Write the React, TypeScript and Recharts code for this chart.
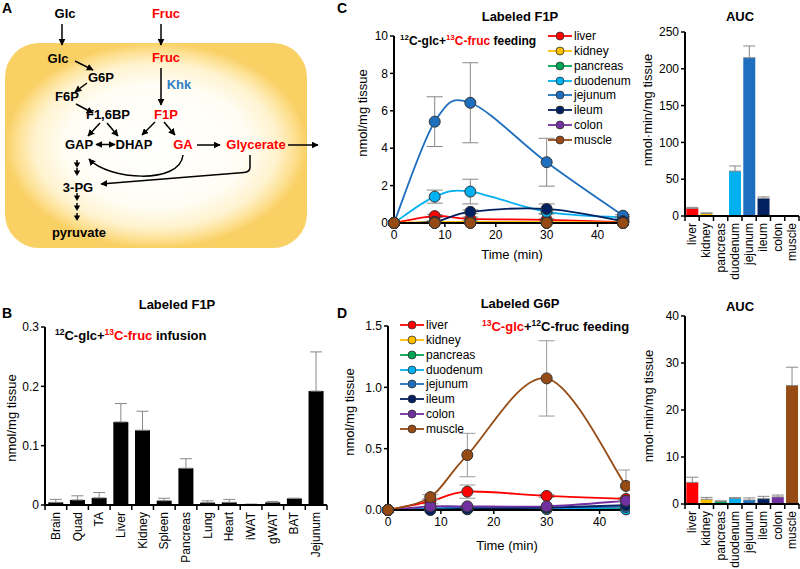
import React from 'react';
import { BarChart, Bar, XAxis, YAxis, ErrorBar, LineChart, Line, Legend, Cell } from 'recharts';

const FONT = '"Liberation Sans", Arial, Helvetica, sans-serif';

// ---------- Panel B data ----------
const bCategories = ['Brain', 'Quad', 'TA', 'Liver', 'Kidney', 'Spleen', 'Pancreas', 'Lung', 'Heart', 'iWAT', 'gWAT', 'BAT', 'Jejunum'];
const bValues = [0.0045, 0.0085, 0.012, 0.14, 0.126, 0.0073, 0.062, 0.004, 0.0045, 0.001, 0.0045, 0.011, 0.192];
const bErrors = [0.005, 0.007, 0.009, 0.031, 0.032, 0.004, 0.016, 0.003, 0.005, 0.0005, 0.0015, 0.0005, 0.066];
const bTicks = [0, 0.1, 0.2, 0.3];

// ---------- Shared ----------
const tissues = ['liver', 'kidney', 'pancreas', 'duodenum', 'jejunum', 'ileum', 'colon', 'muscle'];
const tissueColors = ['#ff0000', '#ffc000', '#00a651', '#00b0f0', '#1f6fbf', '#002060', '#7030a0', '#954b13'];
const timePoints = [0, 8, 15, 30, 45];
const timeTicks = [0, 10, 20, 30, 40];

// ---------- Panel C (Labeled F1P, feeding) ----------
const cLiver = [0, 0.37, 0.22, 0.17, 0.05];
const cKidney = [0, 0.06, 0.06, 0.05, 0.02];
const cPancreas = [0, 0.01, 0.01, 0.01, 0];
const cDuodenum = [0, 1.41, 1.68, 0.6, 0.3];
const cJejunum = [0, 5.42, 6.43, 3.25, 0.39];
const cIleum = [0, 0.07, 0.6, 0.75, 0.1];
const cColon = [0, 0.01, 0.01, 0.01, 0];
const cMuscle = [0, 0.005, 0.005, 0.005, 0];
const cLiverErr = [0, 0.08, 0.1, 0.05, 0.02];
const cKidneyErr = [0, 0, 0, 0, 0];
const cPancreasErr = [0, 0, 0, 0, 0];
const cDuodenumErr = [0, 0.35, 0.66, 0.1, 0.05];
const cJejunumErr = [0, 1.33, 2.14, 1.28, 0.05];
const cIleumErr = [0, 0.05, 0.1, 0.27, 0.05];
const cColonErr = [0, 0, 0, 0, 0];
const cMuscleErr = [0, 0, 0, 0, 0];
const cTicks = [0, 2, 4, 6, 8, 10];

const cAuc = [10.4, 3.6, 0, 61, 215, 24, 0, 0];
const cAucErr = [1.4, 0.5, 0, 7, 16, 2, 0, 0];
const cAucTicks = [0, 50, 100, 150, 200, 250];

// ---------- Panel D (Labeled G6P, feeding) ----------
const dLiver = [0, 0.07, 0.15, 0.115, 0.09];
const dKidney = [0, 0.01, 0.012, 0.015, 0.02];
const dPancreas = [0, 0.005, 0.006, 0.008, 0.01];
const dDuodenum = [0, 0.01, 0.01, 0.01, 0.005];
const dJejunum = [0, 0.015, 0.02, 0.02, 0.025];
const dIleum = [0, 0.0, 0.01, 0.02, 0.04];
const dColon = [0, 0.03, 0.03, 0.03, 0.075];
const dMuscle = [0, 0.105, 0.448, 1.073, 0.196];
const dLiverErr = [0, 0.02, 0.054, 0.012, 0.01];
const dKidneyErr = [0, 0, 0, 0, 0];
const dPancreasErr = [0, 0, 0, 0, 0];
const dDuodenumErr = [0, 0, 0, 0, 0];
const dJejunumErr = [0, 0, 0, 0, 0];
const dIleumErr = [0, 0, 0, 0, 0];
const dColonErr = [0, 0, 0, 0, 0];
const dMuscleErr = [0, 0.02, 0.177, 0.307, 0.13];
const dTicks = [0, 0.5, 1.0, 1.5];

const dAuc = [4.6, 1.0, 0.57, 1.2, 0.85, 1.13, 1.5, 25.2];
const dAucErr = [1.1, 0.4, 0.1, 0.15, 0.45, 0.5, 0.4, 3.9];
const dAucTicks = [0, 10, 20, 30, 40];

// ---------- build tables ----------
const bData = bCategories.map((name, i) => ({ name, value: bValues[i], err: [0, bErrors[i]] }));

const cSeries = [cLiver, cKidney, cPancreas, cDuodenum, cJejunum, cIleum, cColon, cMuscle];
const cSeriesErr = [cLiverErr, cKidneyErr, cPancreasErr, cDuodenumErr, cJejunumErr, cIleumErr, cColonErr, cMuscleErr];
const dSeries = [dLiver, dKidney, dPancreas, dDuodenum, dJejunum, dIleum, dColon, dMuscle];
const dSeriesErr = [dLiverErr, dKidneyErr, dPancreasErr, dDuodenumErr, dJejunumErr, dIleumErr, dColonErr, dMuscleErr];

const buildLineData = (series: number[][], errs: number[][]) =>
  timePoints.map((t, i) => {
    const row: any = { t };
    tissues.forEach((name, k) => {
      row[name] = series[k][i];
      row[name + 'Err'] = errs[k][i];
    });
    return row;
  });

const cData = buildLineData(cSeries, cSeriesErr);
const dData = buildLineData(dSeries, dSeriesErr);
const cAucData = tissues.map((name, i) => ({ name, value: cAuc[i], err: [0, cAucErr[i]] }));
const dAucData = tissues.map((name, i) => ({ name, value: dAuc[i], err: [0, dAucErr[i]] }));

// Excel-like smoothed curve (Catmull-Rom style bezier)
const excelSmooth: any = (context: any) => {
  let pts: number[][] = [];
  return {
    areaStart() {},
    areaEnd() {},
    lineStart() { pts = []; },
    lineEnd() {
      if (!pts.length) return;
      context.moveTo(pts[0][0], pts[0][1]);
      for (let i = 0; i < pts.length - 1; i++) {
        const p0 = pts[i - 1] || pts[i];
        const p1 = pts[i];
        const p2 = pts[i + 1];
        const p3 = pts[i + 2] || pts[i + 1];
        const k = 1 / 6;
        context.bezierCurveTo(
          p1[0] + (p2[0] - p0[0]) * k, p1[1] + (p2[1] - p0[1]) * k,
          p2[0] - (p3[0] - p1[0]) * k, p2[1] - (p3[1] - p1[1]) * k,
          p2[0], p2[1]
        );
      }
    },
    point(x: number, y: number) { pts.push([+x, +y]); },
  };
};

const axisLine = { stroke: '#000', strokeWidth: 2 };
const tickLine = { stroke: '#000', strokeWidth: 1.5 };
const tickStyle = { fill: '#000', fontSize: 12, fontFamily: FONT };

const makeBandTick = (bw: number, axisY: number, n: number) => (props: any) => {
  const { x, payload, index } = props;
  const ly = axisY + 7;
  return (
    <g>
      <line x1={x - bw / 2} x2={x - bw / 2} y1={axisY} y2={axisY + 5} stroke="#000" strokeWidth={1.5} />
      {index === n - 1 ? (
        <line x1={x + bw / 2} x2={x + bw / 2} y1={axisY} y2={axisY + 5} stroke="#000" strokeWidth={1.5} />
      ) : null}
      <text
        x={x}
        y={ly}
        transform={`rotate(-90 ${x} ${ly})`}
        textAnchor="end"
        dominantBaseline="central"
        fontSize={12}
        fontFamily={FONT}
        fill="#000"
      >
        {payload.value}
      </text>
    </g>
  );
};

const makeLegend = () => () => (
  <div style={{ fontFamily: FONT, fontSize: 12, color: '#000' }}>
    {tissues.map((n, i) => (
      <div key={n} style={{ display: 'flex', alignItems: 'center', height: 14.75 }}>
        <svg width={24} height={12} style={{ display: 'block' }}>
          <line x1={0} x2={24} y1={6} y2={6} stroke={tissueColors[i]} strokeWidth={1.8} />
          <circle cx={12} cy={6} r={4} fill={tissueColors[i]} stroke="#333" strokeWidth={0.8} />
        </svg>
        <span style={{ marginLeft: 2, lineHeight: '12px' }}>{n}</span>
      </div>
    ))}
  </div>
);

const LineSeries = (errColor: string) =>
  tissues.map((name, i) => (
    <Line
      key={name}
      dataKey={name}
      type={excelSmooth}
      stroke={tissueColors[i]}
      strokeWidth={1.8}
      dot={{ r: 5.5, fill: tissueColors[i], stroke: '#333', strokeWidth: 1 }}
      activeDot={false}
      isAnimationActive={false}
      legendType="none"
    >
      <ErrorBar dataKey={name + 'Err'} width={8} stroke={errColor} strokeWidth={1} direction="y" />
    </Line>
  ));

const Arrowheads = ({ x, tips }: { x: number; tips: number[] }) => (
  <g>
    {tips.map((t) => (
      <g key={t}>
        <line x1={x} x2={x} y1={t - 8} y2={t - 4} stroke="#000" strokeWidth={1.5} />
        <path d={`M${x - 3.2},${t - 5.5} L${x + 3.2},${t - 5.5} L${x},${t} Z`} fill="#000" />
      </g>
    ))}
  </g>
);

const PanelA = () => {
  const t = { fontFamily: FONT, fontWeight: 'bold' as const, fontSize: 13, textAnchor: 'middle' as const };
  const red = '#ff0000';
  const L = (x1: number, y1: number, x2: number, y2: number, both = false) => (
    <line x1={x1} y1={y1} x2={x2} y2={y2} stroke="#000" strokeWidth={1.5} markerEnd="url(#ah)" markerStart={both ? 'url(#ah)' : undefined} />
  );
  return (
    <svg width={330} height={285} style={{ position: 'absolute', left: 0, top: 0 }}>
      <defs>
        <radialGradient id="cellGrad" cx="0.5" cy="0.5" r="0.5">
          <stop offset="0" stopColor="#ffffff" />
          <stop offset="0.6" stopColor="#fffdf4" />
          <stop offset="0.8" stopColor="#fff3cf" />
          <stop offset="0.92" stopColor="#fde092" />
          <stop offset="1" stopColor="#f9d064" />
        </radialGradient>
        <marker id="ah" viewBox="0 0 10 10" refX="9" refY="5" markerWidth="7" markerHeight="7" markerUnits="userSpaceOnUse" orient="auto-start-reverse">
          <path d="M0,0 L10,5 L0,10 Z" fill="#000" />
        </marker>
      </defs>
      <rect x={5} y={43} width={302} height={205} rx={34} ry={34} fill="url(#cellGrad)" />
      <text x={2} y={13} fontFamily={FONT} fontWeight="bold" fontSize={14}>A</text>
      <text x={65} y={18} {...t}>Glc</text>
      <text x={166} y={18} {...t} fill={red}>Fruc</text>
      {L(62, 24, 62, 45)}
      {L(161, 24, 161, 45)}
      <text x={58} y={63} {...t}>Glc</text>
      {L(75, 61, 93, 70)}
      <text x={101} y={82} {...t}>G6P</text>
      {L(87, 83, 75, 92)}
      <text x={67} y={101} {...t}>F6P</text>
      {L(76, 104, 93, 113)}
      <text x={108} y={119} {...t}>F1,6BP</text>
      <text x={166} y={62} {...t} fill={red}>Fruc</text>
      {L(161, 68, 161, 105)}
      <text x={179} y={89} {...t} fill="#2f7fc1">Khk</text>
      <text x={166} y={119} {...t} fill={red}>F1P</text>
      {L(100, 123, 88, 136)}
      {L(107, 123, 118, 136)}
      {L(155, 122, 142, 135)}
      {L(164, 122, 175, 135)}
      <text x={79} y={149} {...t}>GAP</text>
      <text x={134} y={149} {...t}>DHAP</text>
      {L(96, 144.5, 115, 144.5, true)}
      <text x={183} y={149} {...t} fill={red}>GA</text>
      {L(197, 145, 220, 145)}
      <text x={256} y={149} {...t} fill={red}>Glycerate</text>
      {L(288, 145, 318, 145)}
      <path d="M183,155 C180,185 108,180 89,159" fill="none" stroke="#000" strokeWidth={1.5} markerEnd="url(#ah)" />
      <path d="M250,155 L250,167 Q250,172 244,172.5 L101,184" fill="none" stroke="#000" strokeWidth={1.5} markerEnd="url(#ah)" />
      <Arrowheads x={77} tips={[168, 176]} />
      <text x={78} y={192} {...t}>3-PG</text>
      <Arrowheads x={77} tips={[201, 211, 221]} />
      <text x={79} y={237} {...t}>pyruvate</text>
    </svg>
  );
};

const Overlay = () => {
  const bold = { fontFamily: FONT, fontWeight: 'bold' as const, fontSize: 13 };
  const reg = { fontFamily: FONT, fontSize: 13 };
  const yLabel = (x: number, y: number, s: string) => (
    <text x={x} y={y} transform={`rotate(-90 ${x} ${y})`} textAnchor="middle" dominantBaseline="central" {...reg}>{s}</text>
  );
  return (
    <svg width={800} height={569} style={{ position: 'absolute', left: 0, top: 0, pointerEvents: 'none' }}>
      <text x={2} y={318} fontFamily={FONT} fontWeight="bold" fontSize={14}>B</text>
      <text x={337} y={13} fontFamily={FONT} fontWeight="bold" fontSize={14}>C</text>
      <text x={337} y={318} fontFamily={FONT} fontWeight="bold" fontSize={14}>D</text>

      <text x={177} y={309} textAnchor="middle" {...bold}>Labeled F1P</text>
      <text x={55} y={340} {...bold}>
        <tspan fontSize={8.5} dy={-5}>12</tspan>
        <tspan dy={5}>C-glc+</tspan>
        <tspan fill="#ff0000" fontSize={8.5} dy={-5}>13</tspan>
        <tspan fill="#ff0000" dy={5}>C-fruc</tspan>
        <tspan> infusion</tspan>
      </text>
      {yLabel(11, 418, 'nmol/mg tissue')}

      <text x={520} y={21} textAnchor="middle" {...bold}>Labeled F1P</text>
      <text x={400} y={45} {...bold} fontSize={12}>
        <tspan fontSize={8} dy={-5}>12</tspan>
        <tspan dy={5}>C-glc+</tspan>
        <tspan fill="#ff0000" fontSize={8} dy={-5}>13</tspan>
        <tspan fill="#ff0000" dy={5}>C-fruc</tspan>
        <tspan> feeding</tspan>
      </text>
      {yLabel(362, 113, 'nmol/mg tissue')}
      <text x={512} y={259} textAnchor="middle" {...reg}>Time (min)</text>

      <text x={740} y={21} textAnchor="middle" {...bold}>AUC</text>
      {yLabel(647, 110, 'nmol·min/mg tissue')}

      <text x={520} y={308} textAnchor="middle" {...bold}>Labeled G6P</text>
      <text x={482} y={331} {...bold}>
        <tspan fill="#ff0000" fontSize={8.5} dy={-5}>13</tspan>
        <tspan fill="#ff0000" dy={5}>C-glc</tspan>
        <tspan>+</tspan>
        <tspan fontSize={8.5} dy={-5}>12</tspan>
        <tspan dy={5}>C-fruc feeding</tspan>
      </text>
      {yLabel(349, 412, 'nmol/mg tissue')}
      <text x={507} y={550} textAnchor="middle" {...reg}>Time (min)</text>

      <text x={740} y={311} textAnchor="middle" {...bold}>AUC</text>
      {yLabel(648, 406, 'nmol·min/mg tissue')}
    </svg>
  );
};

export default function App() {
  const bTick = makeBandTick(282 / 13, 220, 13);
  const cAucTick = makeBandTick(114 / 8, 216, 8);
  const dAucTick = makeBandTick(114 / 8, 219, 8);
  return (
    <div style={{ position: 'absolute', left: 0, top: 0, width: 800, height: 569, background: '#fff', overflow: 'hidden', fontFamily: FONT }}>
      <PanelA />

      {/* Panel B */}
      <div style={{ position: 'absolute', left: 0, top: 285 }}>
        <BarChart width={340} height={284} data={bData} margin={{ top: 42, right: 13, bottom: 4, left: 0 }} barCategoryGap="15%">
          <XAxis dataKey="name" interval={0} height={60} axisLine={axisLine} tickLine={false} tick={bTick} />
          <YAxis width={45} domain={[0, 0.3]} ticks={bTicks} axisLine={axisLine} tickLine={tickLine} tickSize={4} tickMargin={2} tick={tickStyle} tickFormatter={(v: number) => (v === 0 ? '0' : v.toFixed(1))} />
          <Bar dataKey="value" fill="#000" isAnimationActive={false}>
            <ErrorBar dataKey="err" width={6} stroke="#888" strokeWidth={1} direction="y" />
          </Bar>
        </BarChart>
      </div>

      {/* Panel C line */}
      <div style={{ position: 'absolute', left: 290, top: 0 }}>
        <LineChart width={340} height={285} data={cData} margin={{ top: 36, right: 7, bottom: 32, left: 0 }}>
          <XAxis dataKey="t" type="number" domain={[0, 45]} ticks={timeTicks} height={30} axisLine={axisLine} tickLine={tickLine} tickSize={4} tickMargin={3} tick={tickStyle} />
          <YAxis width={104} domain={[0, 10]} ticks={cTicks} axisLine={axisLine} tickLine={tickLine} tickSize={4} tickMargin={2} tick={tickStyle} />
          {LineSeries('#888')}
          <Legend layout="vertical" align="center" verticalAlign="middle" content={makeLegend()} wrapperStyle={{ left: 258, top: 29, width: 90 }} />
        </LineChart>
      </div>

      {/* Panel C AUC */}
      <div style={{ position: 'absolute', left: 590, top: 0 }}>
        <BarChart width={210} height={285} data={cAucData} margin={{ top: 32, right: 1, bottom: 9, left: 0 }} barCategoryGap="9%">
          <XAxis dataKey="name" interval={0} height={60} axisLine={axisLine} tickLine={false} tick={cAucTick} />
          <YAxis width={95} domain={[0, 250]} ticks={cAucTicks} axisLine={axisLine} tickLine={tickLine} tickSize={4} tickMargin={2} tick={tickStyle} />
          <Bar dataKey="value" isAnimationActive={false}>
            {cAucData.map((d, i) => <Cell key={d.name} fill={tissueColors[i]} />)}
            <ErrorBar dataKey="err" width={6} stroke="#888" strokeWidth={1} direction="y" />
          </Bar>
        </BarChart>
      </div>

      {/* Panel D line */}
      <div style={{ position: 'absolute', left: 290, top: 285 }}>
        <LineChart width={340} height={284} data={dData} margin={{ top: 41, right: 4, bottom: 29, left: 0 }}>
          <XAxis dataKey="t" type="number" domain={[0, 45]} ticks={timeTicks} height={30} axisLine={axisLine} tickLine={tickLine} tickSize={4} tickMargin={3} tick={tickStyle} />
          <YAxis width={98} domain={[0, 1.5]} ticks={dTicks} axisLine={axisLine} tickLine={tickLine} tickSize={4} tickMargin={2} tick={tickStyle} tickFormatter={(v: number) => v.toFixed(1)} />
          {LineSeries('#999')}
          <Legend layout="vertical" align="center" verticalAlign="middle" content={makeLegend()} wrapperStyle={{ left: 110, top: 33, width: 90 }} />
        </LineChart>
      </div>

      {/* Panel D AUC */}
      <div style={{ position: 'absolute', left: 590, top: 285 }}>
        <BarChart width={210} height={284} data={dAucData} margin={{ top: 31, right: 1, bottom: 5, left: 0 }} barCategoryGap="9%">
          <XAxis dataKey="name" interval={0} height={60} axisLine={axisLine} tickLine={false} tick={dAucTick} />
          <YAxis width={95} domain={[0, 40]} ticks={dAucTicks} axisLine={axisLine} tickLine={tickLine} tickSize={4} tickMargin={2} tick={tickStyle} />
          <Bar dataKey="value" isAnimationActive={false}>
            {dAucData.map((d, i) => <Cell key={d.name} fill={tissueColors[i]} />)}
            <ErrorBar dataKey="err" width={6} stroke="#888" strokeWidth={1} direction="y" />
          </Bar>
        </BarChart>
      </div>

      <Overlay />
    </div>
  );
}
